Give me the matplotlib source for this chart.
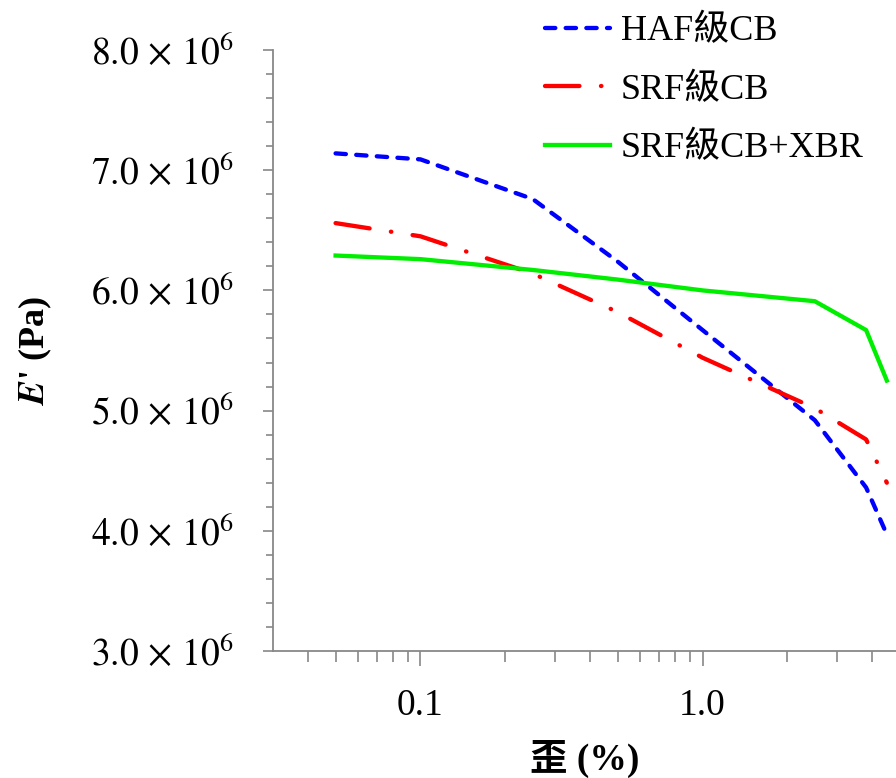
import matplotlib
matplotlib.use("Agg")
import matplotlib.pyplot as plt
import numpy as np
from matplotlib.ticker import FixedLocator, MultipleLocator, FuncFormatter, NullFormatter

plt.rcParams['mathtext.fontset'] = 'stix'
serif = ['Liberation Serif', 'Noto Sans CJK TC']

# strain (%) and storage modulus E' (x1e6 Pa)
strain = [0.05, 0.1, 0.25, 0.5, 1.0, 2.5, 3.8, 4.5]
haf = [7.14, 7.09, 6.76, 6.24, 5.67, 4.92, 4.36, 3.97]
srf = [6.56, 6.45, 6.14, 5.82, 5.44, 5.02, 4.76, 4.40]
srf_xbr = [6.29, 6.26, 6.17, 6.09, 6.00, 5.91, 5.67, 5.25]
labels = ['HAF級CB', 'SRF級CB', 'SRF級CB+XBR']

fig = plt.figure(figsize=(8.96, 7.78), dpi=100)
ax = fig.add_axes([273/896, 127/778, 623/896, 601/778])

x = np.array(strain)
l1, = ax.plot(x, np.array(haf)*1e6, color='#0000ff', lw=3.1, dashes=(2.4, 2.4),
              dash_capstyle='round', label=labels[0])
l2, = ax.plot(x, np.array(srf)*1e6, color='#ff0000', lw=3.1, dashes=(8.0, 5.0, 0.1, 5.0),
              dash_capstyle='round', label=labels[1])
l3, = ax.plot(x, np.array(srf_xbr)*1e6, color='#00ee00', lw=3.1, label=labels[2])

ax.set_xscale('log')
ax.set_xlim(0.03, 4.85)
ax.set_ylim(3e6, 8e6)

ax.xaxis.set_major_locator(FixedLocator([0.1, 1.0]))
ax.xaxis.set_minor_locator(FixedLocator([0.04, 0.05, 0.06, 0.07, 0.08, 0.09,
                                         0.2, 0.3, 0.4, 0.5, 0.6, 0.7, 0.8, 0.9,
                                         2, 3, 4]))
ax.xaxis.set_major_formatter(FuncFormatter(lambda v, p: '%.1f' % v))
ax.xaxis.set_minor_formatter(NullFormatter())

ax.yaxis.set_major_locator(MultipleLocator(1e6))
ax.yaxis.set_minor_locator(MultipleLocator(0.2e6))
ax.yaxis.set_major_formatter(FuncFormatter(
    lambda v, p: r'$%.1f\,\times\,10^{6}$' % (v/1e6)))

for s in ['top', 'right']:
    ax.spines[s].set_visible(False)
for s in ['left', 'bottom']:
    ax.spines[s].set_color('#888888')
    ax.spines[s].set_linewidth(1.3)

ax.tick_params(axis='both', which='both', direction='out', color='#888888', width=1.2)
ax.tick_params(axis='y', which='major', length=7, pad=21, labelsize=27)
ax.tick_params(axis='y', which='minor', length=5)
ax.tick_params(axis='x', which='major', length=11, pad=16, labelsize=27)
ax.tick_params(axis='x', which='minor', length=8)
for t in ax.get_xticklabels():
    t.set_family(serif)

ax.set_xlabel('歪 (%)', family=serif, fontsize=27, fontweight='bold', labelpad=12)
ax.set_ylabel(r"$\mathbfit{E}$' (Pa)", family=serif, fontsize=26, fontweight='bold', labelpad=27)

leg = fig.legend(handles=[l1, l2, l3], loc='upper left', bbox_to_anchor=(545/896, 1 - 15/778),
                 frameon=False, prop={'family': serif, 'size': 26},
                 borderpad=0, borderaxespad=0,
                 handlelength=1.8, handletextpad=0.3, labelspacing=0.7)

fig.savefig('out.png', dpi=100)
